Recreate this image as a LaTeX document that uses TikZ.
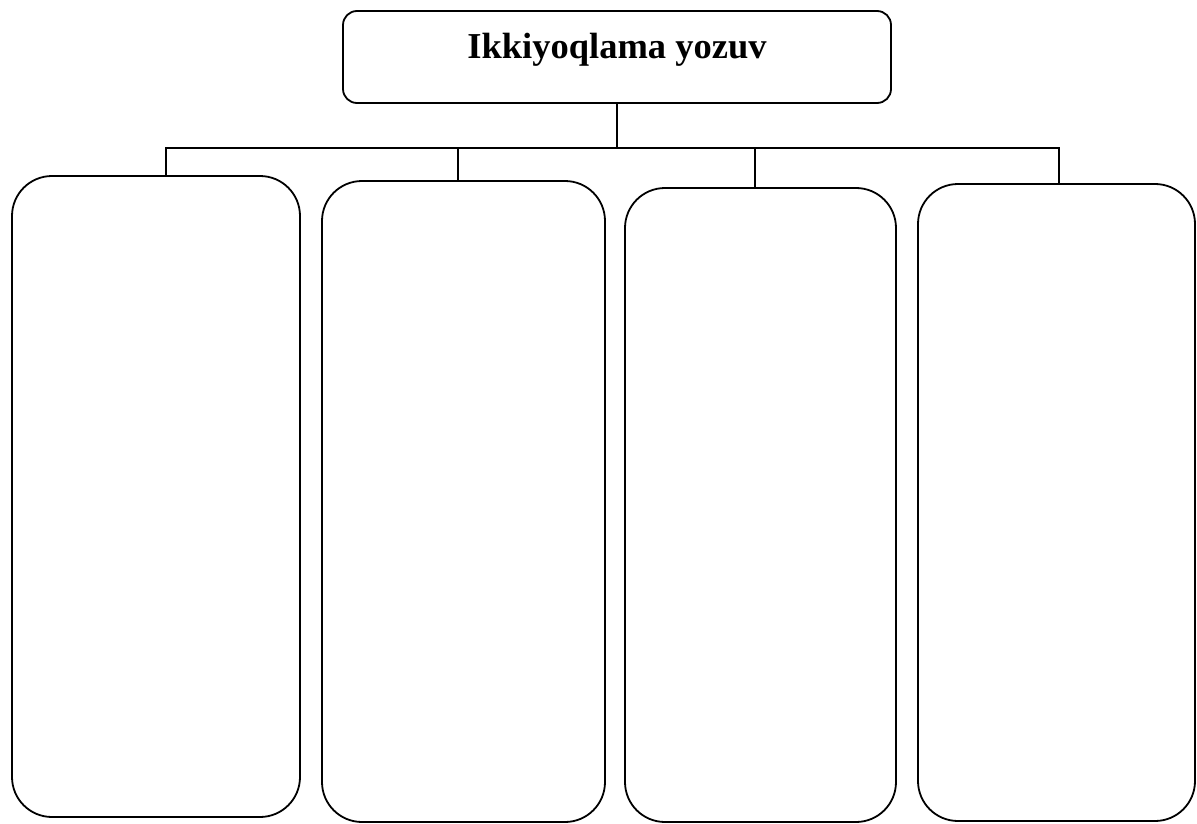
\documentclass[tikz,border=0pt]{standalone}
\usepackage{fontspec}
\setmainfont{Liberation Serif}
\begin{document}
\begin{tikzpicture}[x=1pt,y=-1pt,
  line width=1.8pt,
  bigbox/.style={draw, rounded corners=40pt, inner sep=0pt},
  topbox/.style={draw, rounded corners=14pt, inner sep=0pt, minimum width=548pt, minimum height=92pt},
  wire/.style={line width=1.5pt}]
\useasboundingbox (0,0) rectangle (1197,824);
\node[topbox] (top) at (617,57) {\raisebox{-2pt}[0pt][0pt]{\fontsize{36.5}{42}\selectfont\bfseries Ikkiyoqlama yozuv}};
\node[bigbox, minimum width=288pt, minimum height=641pt] (b1) at (156,496.5) {};
\node[bigbox, minimum width=283pt, minimum height=641pt] (b2) at (463.5,501.5) {};
\node[bigbox, minimum width=271pt, minimum height=634pt] (b3) at (760.5,505) {};
\node[bigbox, minimum width=277pt, minimum height=637pt] (b4) at (1056.5,502.5) {};
\coordinate (bus) at (617,148);
\coordinate (t1) at ([xshift=10pt]b1.north);
\coordinate (t2) at ([xshift=-5.5pt]b2.north);
\coordinate (t3) at ([xshift=-5.5pt]b3.north);
\coordinate (t4) at ([xshift=2.5pt]b4.north);
\draw[wire] (top.south) -- (bus);
\draw[wire] (t1) |- (bus) -| (t4);
\draw[wire] (t2) -- (t2 |- bus);
\draw[wire] (t3) -- (t3 |- bus);
\end{tikzpicture}
\end{document}
